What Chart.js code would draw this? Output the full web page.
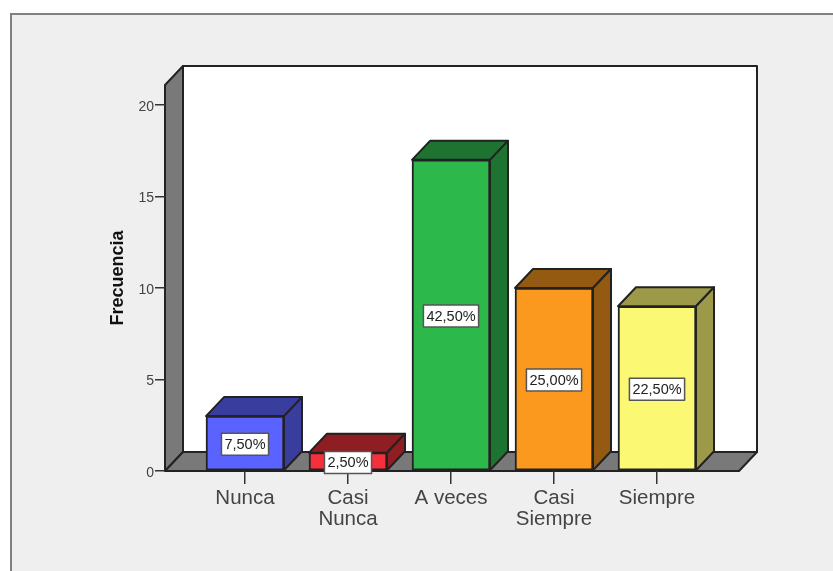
<!DOCTYPE html>
<html><head><meta charset="utf-8">
<style>html,body{margin:0;padding:0;background:#fff}canvas{display:block}</style>
<script src="https://cdn.jsdelivr.net/npm/chart.js@4"></script></head>
<body><div style="width:833px;height:571px"><canvas id="c"></canvas></div>
<script>
const categories=[["Nunca"],["Casi","Nunca"],["A veces"],["Casi","Siempre"],["Siempre"]];
const frequencies=[3,1,17,10,9];
const percentLabels=["7,50%","2,50%","42,50%","25,00%","22,50%"];
const frontColors=["#5A62FF","#F5303C","#2DB84C","#FA991E","#FBF873"];
const sideColors=["#383D9E","#8F1E22","#1E7330","#945A12","#9C9A48"];
const yTicks=[0,5,10,15,20];
const DX=18,DY=19,INK="#222222",WALL="#797979";
function poly(ctx,pts,fill){ctx.beginPath();pts.forEach((p,i)=>i?ctx.lineTo(p[0],p[1]):ctx.moveTo(p[0],p[1]));ctx.closePath();ctx.fillStyle=fill;ctx.fill();ctx.stroke();}
const scene={id:"scene",
 beforeDraw(ch){const c=ch.ctx,a=ch.chartArea;c.save();
  c.fillStyle="#EFEFEF";c.fillRect(10,13,823,558);
  c.strokeStyle="#808080";c.lineWidth=2;c.beginPath();c.moveTo(11,571);c.lineTo(11,14);c.lineTo(833,14);c.stroke();
  c.strokeStyle=INK;c.lineWidth=2;c.lineJoin="round";
  const L=a.left,R=a.right,T=a.top,B=a.bottom;
  poly(c,[[L+DX,T-DY],[R+DX,T-DY],[R+DX,B-DY],[L+DX,B-DY]],"#FFFFFF");
  poly(c,[[L,T],[L+DX,T-DY],[L+DX,B-DY],[L,B]],WALL);
  poly(c,[[L,B],[L+DX,B-DY],[R+DX,B-DY],[R,B]],WALL);
  c.restore();},
 afterDatasetsDraw(ch){const c=ch.ctx,m=ch.getDatasetMeta(0).data;c.save();
  c.strokeStyle=INK;c.lineWidth=2;c.lineJoin="round";
  m.forEach((b,i)=>{const l=b.x-b.width/2,r=b.x+b.width/2,t=b.y,bt=b.base;
   poly(c,[[l,t],[l+DX,t-DY],[r+DX,t-DY],[r,t]],sideColors[i]);
   poly(c,[[r,t],[r+DX,t-DY],[r+DX,bt-DY],[r,bt]],sideColors[i]);});
  c.font="14.5px 'Liberation Sans'";c.textAlign="center";c.textBaseline="middle";
  m.forEach((b,i)=>{const s=percentLabels[i],w=c.measureText(s).width+6,h=22,y=(b.y+b.base)/2+1;
   c.fillStyle="#FFFFFF";c.strokeStyle="#555555";c.lineWidth=1.5;
   c.fillRect(b.x-w/2,y-h/2,w,h);c.strokeRect(b.x-w/2,y-h/2,w,h);
   c.fillStyle="#222222";c.fillText(s,b.x,y+0.5);});
  c.restore();}
};
new Chart(document.getElementById("c"),{type:"bar",plugins:[scene],
 data:{datasets:[{data:frequencies.map((v,i)=>({x:i,y:v})),backgroundColor:frontColors,borderColor:INK,borderWidth:2,borderSkipped:false,barThickness:78}]},
 options:{responsive:true,maintainAspectRatio:false,animation:false,
  layout:{padding:{left:107,right:94,top:85,bottom:0}},
  plugins:{legend:{display:false},tooltip:{enabled:false}},
  scales:{
   x:{type:"linear",offset:false,min:-0.7767,max:4.796,grid:{offset:false,drawOnChartArea:false,drawTicks:true,tickLength:13,color:"#333",lineWidth:1.5},border:{display:false},
      afterBuildTicks(s){s.ticks=categories.map((_,i)=>({value:i}));},
      afterFit(s){s.height=100;},
      ticks:{autoSkip:false,maxRotation:0,padding:4,color:"#444",font:{family:"'Liberation Sans'",size:20.5,lineHeight:1.03},callback:v=>categories[v]}},
   y:{min:0,max:21.09,grid:{drawOnChartArea:false,tickLength:10,color:"#333",lineWidth:1.5},border:{display:false},
      afterBuildTicks(s){s.ticks=yTicks.map(v=>({value:v}));},
      afterFit(s){s.width=58;},
      title:{display:true,text:"Frecuencia",color:"#111",font:{family:"'Liberation Sans'",size:18,weight:"bold"},padding:{top:0,bottom:0}},
      ticks:{autoSkip:false,padding:1,labelOffset:2,color:"#444",font:{family:"'Liberation Sans'",size:14}}}
  }}});
</script></body></html>
